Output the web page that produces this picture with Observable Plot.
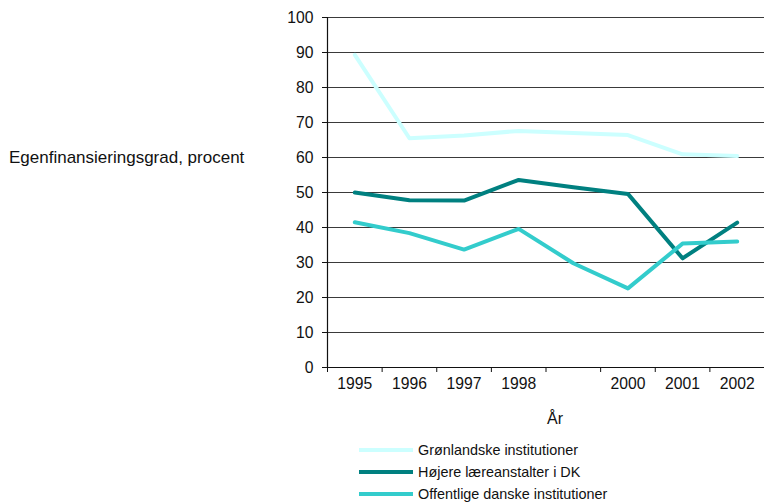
<!DOCTYPE html>
<html>
<head>
<meta charset="utf-8">
<script src="https://cdn.jsdelivr.net/npm/d3@7"></script>
<script src="https://cdn.jsdelivr.net/npm/@observablehq/plot@0.6"></script>
<style>
  html, body { margin: 0; padding: 0; background: #fff; }
  body { width: 764px; height: 504px; overflow: hidden; font-family: "Liberation Sans", Arial, sans-serif; color: #111; }
  #wrap { position: relative; width: 764px; height: 504px; }
  #ylab { position: absolute; left: 9px; top: 147px; font-size: 17px; line-height: 22px; white-space: nowrap; }
  #xlab { position: absolute; left: 547px; top: 408px; font-size: 16px; line-height: 22px; }
  #legend { position: absolute; left: 359px; top: 439px; font-size: 14.4px; }
  .row { height: 22px; display: flex; align-items: center; white-space: nowrap; line-height: 18px; }
  .sw { width: 54px; height: 4px; margin-right: 5px; }
</style>
</head>
<body>
<div id="wrap"></div>
<script>
const years = [1995, 1996, 1997, 1998, 1999, 2000, 2001, 2002];
const yearLabels = ["1995", "1996", "1997", "1998", "", "2000", "2001", "2002"];
const seriesNames = ["Grønlandske institutioner", "Højere læreanstalter i DK", "Offentlige danske institutioner"];
const seriesColors = ["#ccffff", "#008080", "#33cccc"];
const gronland = [89.3, 65.5, 66.3, 67.6, 67.0, 66.4, 60.9, 60.4];
const hojere = [50.0, 47.8, 47.7, 53.6, 51.5, 49.6, 31.2, 41.4];
const offentlige = [41.5, 38.4, 33.7, 39.6, 29.8, 22.6, 35.4, 36.0];
const yTicks = [0, 10, 20, 30, 40, 50, 60, 70, 80, 90, 100];

const valueArrays = [gronland, hojere, offentlige];
const data = [];
seriesNames.forEach((s, i) => years.forEach((yr, j) => data.push({series: s, year: yr, value: valueArrays[i][j]})));
const boundaries = years.map(y => y - 0.5).concat([years[years.length - 1] + 0.5]);
const labelMap = new Map(years.map((y, i) => [y, yearLabels[i]]));

const chart = Plot.plot({
  width: 764,
  height: 430,
  marginLeft: 327,
  marginRight: 0,
  marginTop: 17,
  marginBottom: 63,
  style: {fontFamily: "Liberation Sans, Arial, sans-serif", fontSize: "15.7px", color: "#111", background: "#fff"},
  x: {type: "linear", domain: [boundaries[0], boundaries[boundaries.length - 1]]},
  y: {domain: [0, 100]},
  color: {domain: seriesNames, range: seriesColors},
  marks: [
    Plot.ruleY(yTicks.filter(t => t > 0), {stroke: "#3a3a3a", strokeWidth: 1}),
    Plot.axisY({ticks: yTicks, tickSize: 5, tickPadding: 9, label: null, stroke: "#111"}),
    Plot.axisX({ticks: boundaries, tickSize: 5, tickFormat: () => "", label: null, stroke: "#111"}),
    Plot.axisX({ticks: years, tickSize: 0, tickPadding: 10, tickFormat: d => labelMap.get(d), label: null}),
    Plot.ruleX([boundaries[0]], {stroke: "#111", strokeWidth: 1.2}),
    Plot.ruleY([0], {stroke: "#111", strokeWidth: 1.2}),
    Plot.line(data, {x: "year", y: "value", z: "series", stroke: "series", strokeWidth: 4, strokeLinejoin: "round"})
  ]
});

const wrap = document.getElementById("wrap");
wrap.appendChild(chart);

const ylab = document.createElement("div");
ylab.id = "ylab";
ylab.textContent = "Egenfinansieringsgrad, procent";
wrap.appendChild(ylab);

const xlab = document.createElement("div");
xlab.id = "xlab";
xlab.textContent = "År";
wrap.appendChild(xlab);

const legend = document.createElement("div");
legend.id = "legend";
seriesNames.forEach((s, i) => {
  const row = document.createElement("div");
  row.className = "row";
  const sw = document.createElement("div");
  sw.className = "sw";
  sw.style.background = seriesColors[i];
  const t = document.createElement("span");
  t.textContent = s;
  row.appendChild(sw);
  row.appendChild(t);
  legend.appendChild(row);
});
wrap.appendChild(legend);
</script>
</body>
</html>
